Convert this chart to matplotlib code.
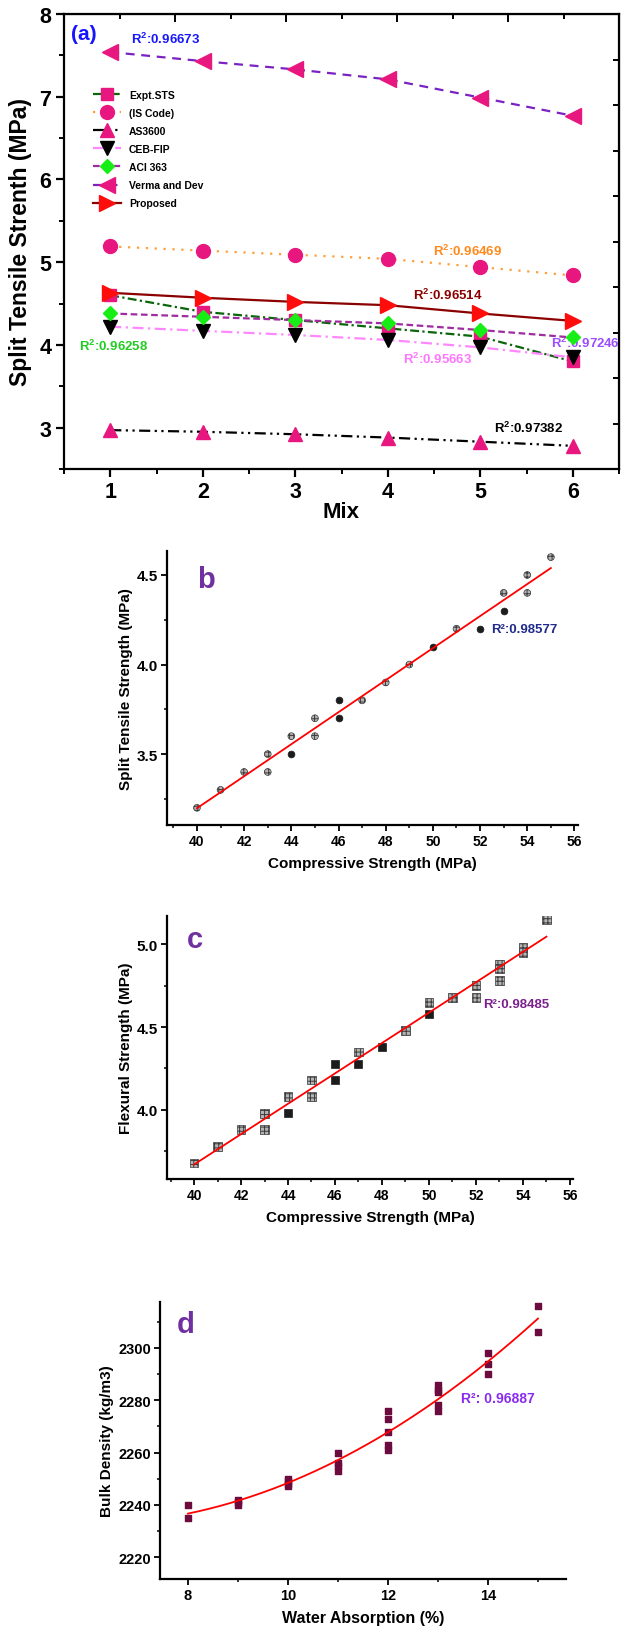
"""Split tensile strength per mix and three property correlations, stacked."""

import numpy as np
import matplotlib
matplotlib.use("Agg")
import matplotlib.pyplot as plt
from matplotlib.ticker import MultipleLocator, FixedLocator

plt.rcParams["font.family"] = ["Liberation Sans", "DejaVu Sans"]
plt.rcParams["font.weight"] = "bold"
plt.rcParams["axes.labelweight"] = "bold"
plt.rcParams["mathtext.fontset"] = "custom"
plt.rcParams["mathtext.rm"] = "Liberation Sans:bold"
plt.rcParams["mathtext.bf"] = "Liberation Sans:bold"
plt.rcParams["hatch.linewidth"] = 0.7

# (a) split tensile strength for each mix, test results and code predictions
MIX = [1, 2, 3, 4, 5, 6]
EXPT_STS = [4.60, 4.40, 4.30, 4.20, 4.10, 3.80]
IS_CODE = [5.19, 5.14, 5.09, 5.04, 4.94, 4.84]
AS3600 = [2.97, 2.95, 2.92, 2.88, 2.83, 2.78]
CEB_FIP = [4.22, 4.17, 4.12, 4.06, 3.97, 3.85]
ACI_363 = [4.38, 4.34, 4.30, 4.26, 4.18, 4.09]
VERMA_DEV = [7.54, 7.43, 7.33, 7.21, 6.99, 6.77]
PROPOSED = [4.63, 4.57, 4.52, 4.48, 4.38, 4.29]
MODEL_NAMES = ["Expt.STS", "(IS Code)", "AS3600", "CEB-FIP", "ACI 363",
               "Verma and Dev", "Proposed"]
R2_A = ["0.96673", "0.96469", "0.96514", "0.96258", "0.95663", "0.97246", "0.97382"]

# (b) compressive vs split tensile strength; 1 = solid marker
CS_B = [40, 41, 42, 43, 43, 44, 44, 45, 45, 46, 46, 47, 48, 49, 50, 51, 52,
        53, 53, 54, 54, 55]
STS_B = [3.2, 3.3, 3.4, 3.5, 3.4, 3.6, 3.5, 3.7, 3.6, 3.8, 3.7, 3.8, 3.9,
         4.0, 4.1, 4.2, 4.2, 4.4, 4.3, 4.5, 4.4, 4.6]
SOLID_B = [0, 0, 0, 0, 0, 0, 1, 0, 0, 1, 1, 0, 0, 0, 1, 0, 1, 0, 1, 0, 0, 0]
R2_B = "0.98577"

# (c) compressive vs flexural strength
CS_C = [40, 41, 42, 43, 43, 44, 44, 45, 45, 46, 46, 47, 47, 48, 49, 50, 50,
        51, 52, 52, 53, 53, 53, 54, 54, 55]
FS_C = [3.68, 3.78, 3.88, 3.98, 3.88, 4.08, 3.98, 4.18, 4.08, 4.28, 4.18,
        4.35, 4.28, 4.38, 4.48, 4.65, 4.58, 4.68, 4.75, 4.68, 4.88, 4.85,
        4.78, 4.98, 4.95, 5.15]
SOLID_C = [0, 0, 0, 0, 0, 0, 1, 0, 0, 1, 1, 0, 1, 1, 0, 0, 1, 0, 0, 0, 0, 0,
           0, 0, 0, 0]
R2_C = "0.98485"

# (d) water absorption vs bulk density
WA_D = [8, 8, 9, 9, 9, 10, 10, 10, 10, 11, 11, 11, 11, 12, 12, 12, 12, 12,
        13, 13, 13, 13, 13, 14, 14, 14, 15, 15]
BD_D = [2240, 2235, 2242, 2241, 2240, 2250, 2249, 2248, 2247, 2260, 2256,
        2255, 2253, 2276, 2273, 2268, 2263, 2261, 2286, 2284, 2283, 2278,
        2276, 2298, 2294, 2290, 2316, 2306]
R2_D = "0.96887"

PINK = "#e8177f"
PURPLE = "#7030a0"


def draw_models(ax):
    """Seven strength curves with R² notes, boxed with inner ticks."""

    series = [EXPT_STS, IS_CODE, AS3600, CEB_FIP, ACI_363, VERMA_DEV, PROPOSED]
    styles = [
        ("#0b650b", (0, (4, 1.5, 1, 1.5)), "s", PINK, 8.5),
        ("#ff9f3a", (0, (1, 3)), "o", PINK, 10),
        ("black", (0, (5, 2, 1, 2, 1, 2)), "^", PINK, 10),
        ("#ff88ff", (0, (5, 2, 1, 2)), "v", "black", 10),
        ("#a02ca0", (0, (3, 1.6)), "D", "#16ee16", 7.5),
        ("#7a22c2", (0, (4, 3)), "<", PINK, 11),
        ("#8b0000", "-", ">", "#ff0d0d", 11),
    ]
    for values, name, (lc, ls, mk, mc, ms) in zip(series, MODEL_NAMES, styles):
        ax.plot(MIX, values, color=lc, linestyle=ls, linewidth=1.6,
                marker=mk, markersize=ms, markerfacecolor=mc,
                markeredgecolor=mc, label=name, zorder=3)

    notes = [
        (1.60, 7.70, "#1717ff"), (4.86, 5.14, "#ff8a1c"),
        (4.65, 4.61, "#8b0000"), (1.04, 3.99, "#22cc22"),
        (4.54, 3.84, "#ff77ff"), (6.14, 4.03, "#9b4dff"),
        (5.52, 3.00, "black"),
    ]
    for (x, y, color), r2 in zip(notes, R2_A):
        ax.text(x, y, r"R$^{\mathbf{2}}$:" + r2, color=color, fontsize=9.5,
                ha="center", va="center", zorder=2, clip_on=False)
    ax.text(0.71, 7.76, "(a)", color="#1515ff", fontsize=15, ha="center",
            va="center")

    ax.set_xlim(0.5, 6.5)
    ax.set_ylim(2.5, 8)
    ax.xaxis.set_major_locator(MultipleLocator(1))
    ax.xaxis.set_minor_locator(MultipleLocator(0.5))
    ax.yaxis.set_major_locator(MultipleLocator(1))
    ax.yaxis.set_minor_locator(MultipleLocator(0.5))
    ax.tick_params(which="major", direction="out", length=6, width=1.6,
                   labelsize=15.5, pad=3)
    ax.tick_params(which="minor", direction="out", length=3.5, width=1.4)
    for spine in ax.spines.values():
        spine.set_linewidth(1.6)

    top = ax.secondary_xaxis("top")
    top.xaxis.set_major_locator(FixedLocator(np.linspace(0.5, 6.5, 6)[1:-1]))
    top.xaxis.set_minor_locator(FixedLocator(np.linspace(1.1, 5.9, 5)))
    top.tick_params(which="both", direction="in", labeltop=False, width=1.4)
    top.tick_params(which="major", length=6)
    top.tick_params(which="minor", length=3.5)
    right = ax.secondary_yaxis("right")
    right.yaxis.set_major_locator(FixedLocator(np.linspace(2.5, 8, 11)[1:-1]))
    right.tick_params(direction="in", labelright=False, length=4, width=1.4)

    ax.set_xlabel("Mix", fontsize=16, labelpad=-1)
    ax.set_ylabel("Split Tensile Strenth (MPa)", fontsize=16.5)
    ax.yaxis.set_label_coords(-0.058, 0.5)

    ax.legend(loc="upper left", bbox_to_anchor=(0.04, 0.85), frameon=False,
              fontsize=7.5, numpoints=1, handlelength=2.6, handletextpad=0.8,
              labelspacing=0.78, borderpad=0.2)


def style_scatter_axes(ax):
    """Open L-shaped frame with outward ticks."""

    ax.spines["top"].set_visible(False)
    ax.spines["right"].set_visible(False)
    ax.spines["left"].set_linewidth(1.6)
    ax.spines["bottom"].set_linewidth(1.6)
    ax.tick_params(which="major", direction="out", length=4.5, width=1.3,
                   labelsize=10, pad=2)
    ax.tick_params(which="minor", direction="out", length=2.5, width=1.1)
    ax.tick_params(axis="y", which="major", labelsize=11)


def hatched_scatter(ax, x, y, solid, marker, size, hatch):
    """Grey hatched markers, with a few drawn solid."""

    x = np.asarray(x, dtype=float)
    y = np.asarray(y, dtype=float)
    solid = np.asarray(solid, dtype=bool)
    ax.scatter(x[~solid], y[~solid], s=size, marker=marker, facecolor="#b4b4b4",
               edgecolor="#3a3a3a", linewidth=0.5, hatch=hatch, zorder=3)
    ax.scatter(x[solid], y[solid], s=size, marker=marker, facecolor="#1c1c1c",
               edgecolor="#1c1c1c", linewidth=0.5, zorder=3)


def draw_fit(ax, x, y, degree, x_from, x_to):
    """Least-squares polynomial through the points, drawn in red."""

    coef = np.polyfit(x, y, degree)
    xs = np.linspace(x_from, x_to, 200)
    ax.plot(xs, np.polyval(coef, xs), color="#ff0000", linewidth=1.3, zorder=4)


def draw_sts_vs_cs(ax):
    hatched_scatter(ax, CS_B, STS_B, SOLID_B, "o", 24, "++++")
    draw_fit(ax, CS_B, STS_B, 1, 40, 55)
    ax.text(52.45, 4.2, "R²:" + R2_B, color="#1f2a8c", fontsize=9.5, va="center")
    ax.text(40.0, 4.48, "b", color=PURPLE, fontsize=21, va="center")
    ax.set_xlim(38.73, 56.15)
    ax.set_ylim(3.104, 4.634)
    ax.xaxis.set_major_locator(MultipleLocator(2))
    ax.xaxis.set_minor_locator(MultipleLocator(1))
    ax.yaxis.set_major_locator(MultipleLocator(0.5))
    ax.yaxis.set_minor_locator(MultipleLocator(0.25))
    ax.yaxis.set_major_formatter("{x:.1f}")
    style_scatter_axes(ax)
    ax.set_xlabel("Compressive Strength (MPa)", fontsize=11, labelpad=6)
    ax.set_ylabel("Split Tensile Strength (MPa)", fontsize=11, labelpad=3)


def draw_fs_vs_cs(ax):
    hatched_scatter(ax, CS_C, FS_C, SOLID_C, "s", 40, "++++")
    draw_fit(ax, CS_C, FS_C, 1, 40, 55)
    ax.text(52.3, 4.64, "R²:" + R2_C, color="#7b1f8f", fontsize=9.5, va="center")
    ax.text(39.7, 5.03, "c", color=PURPLE, fontsize=21, va="center")
    ax.set_xlim(38.85, 56.13)
    ax.set_ylim(3.584, 5.169)
    ax.xaxis.set_major_locator(MultipleLocator(2))
    ax.xaxis.set_minor_locator(MultipleLocator(1))
    ax.yaxis.set_major_locator(MultipleLocator(0.5))
    ax.yaxis.set_minor_locator(MultipleLocator(0.25))
    ax.yaxis.set_major_formatter("{x:.1f}")
    style_scatter_axes(ax)
    ax.set_xlabel("Compressive Strength (MPa)", fontsize=11, labelpad=6)
    ax.set_ylabel("Flexural Strength (MPa)", fontsize=11, labelpad=3)


def draw_bd_vs_wa(ax):
    ax.scatter(WA_D, BD_D, s=18, marker="s", color="#6b0b3e", zorder=3)
    draw_fit(ax, WA_D, BD_D, 2, 8, 15)
    ax.text(13.47, 2281, "R²: " + R2_D, color="#8a2cf0", fontsize=10,
            va="center")
    ax.text(7.78, 2309, "d", color=PURPLE, fontsize=21, va="center")
    ax.set_xlim(7.44, 15.56)
    ax.set_ylim(2211.6, 2317.6)
    ax.xaxis.set_major_locator(MultipleLocator(2))
    ax.xaxis.set_minor_locator(MultipleLocator(1))
    ax.yaxis.set_major_locator(MultipleLocator(20))
    ax.yaxis.set_minor_locator(MultipleLocator(10))
    style_scatter_axes(ax)
    ax.tick_params(which="major", labelsize=10.5)
    ax.set_xlabel("Water Absorption (%)", fontsize=11.5, labelpad=6)
    ax.set_ylabel("Bulk Density (kg/m3)", fontsize=11, labelpad=3)


W, H = 627, 1633
fig = plt.figure(figsize=(W / 100, H / 100), dpi=100)


def add_axes(left, top, right, bottom):
    """Axes placed by pixel edges measured from the top-left corner."""

    return fig.add_axes([left / W, 1 - bottom / H, (right - left) / W,
                         (bottom - top) / H])


draw_models(add_axes(64, 15, 619, 470))
draw_sts_vs_cs(add_axes(167, 552, 578, 826))
draw_fs_vs_cs(add_axes(167, 917, 573, 1180))
draw_bd_vs_wa(add_axes(160, 1303, 566, 1580))

fig.savefig("out.png", dpi=100)
plt.close(fig)
